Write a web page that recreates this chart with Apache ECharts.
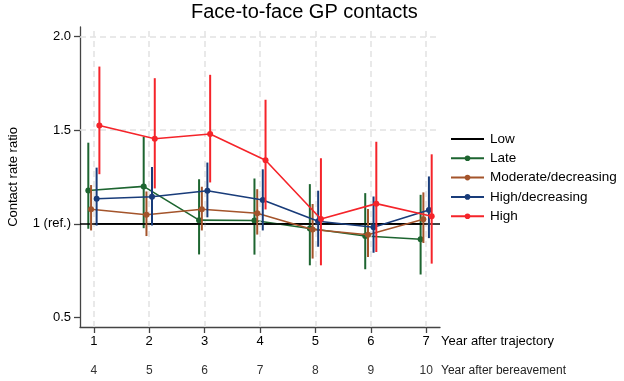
<!DOCTYPE html>
<html>
<head>
<meta charset="utf-8">
<script src="https://cdn.jsdelivr.net/npm/echarts@6/dist/echarts.min.js"></script>
<style>
html,body{margin:0;padding:0;background:#fff;}
#chart{width:624px;height:381px;}
</style>
</head>
<body>
<div id="chart"></div>
<script>
// ---- data ----
var trajectoryYears = [1, 2, 3, 4, 5, 6, 7];
var bereavementYears = [4, 5, 6, 7, 8, 9, 10];
var yTickValues = [0.5, 1, 1.5, 2];
var yTickLabels = ['0.5', '1 (ref.)', '1.5', '2.0'];
var yGridValues = [1.5, 2];

var lowEst = [1, 1, 1, 1, 1, 1, 1];

var lateEst = [1.178, 1.200, 1.020, 1.018, 0.975, 0.935, 0.918];
var lateLo  = [0.974, 0.977, 0.837, 0.836, 0.779, 0.758, 0.730];
var lateHi  = [1.433, 1.465, 1.238, 1.242, 1.212, 1.164, 1.155];

var modEst = [1.078, 1.049, 1.078, 1.057, 0.970, 0.942, 1.025];
var modLo  = [0.965, 0.935, 0.965, 0.943, 0.815, 0.823, 0.898];
var modHi  = [1.207, 1.173, 1.198, 1.185, 1.106, 1.079, 1.168];

var hdEst = [1.134, 1.145, 1.177, 1.127, 1.014, 0.982, 1.074];
var hdLo  = [0.991, 0.991, 1.035, 0.965, 0.878, 0.846, 0.924];
var hdHi  = [1.300, 1.304, 1.327, 1.291, 1.177, 1.146, 1.253];

var highEst = [1.525, 1.454, 1.479, 1.339, 1.026, 1.108, 1.041];
var highLo  = [1.265, 1.189, 1.221, 1.077, 0.779, 0.850, 0.788];
var highHi  = [1.839, 1.777, 1.795, 1.662, 1.350, 1.438, 1.371];

// ---- build ----
var FONT = 'Liberation Sans, Arial, sans-serif';
var groups = [
  {name: 'Late', est: lateEst, lo: lateLo, hi: lateHi, color: '#1d6530', off: -0.1},
  {name: 'Moderate/decreasing', est: modEst, lo: modLo, hi: modHi, color: '#a4542b', off: -0.05},
  {name: 'High/decreasing', est: hdEst, lo: hdLo, hi: hdHi, color: '#193c7a', off: 0.05},
  {name: 'High', est: highEst, lo: highLo, hi: highHi, color: '#f5242a', off: 0.1}
];

var series = [];
var gridLines = [];
trajectoryYears.forEach(function (v) { gridLines.push({xAxis: v}); });
yGridValues.forEach(function (v) { gridLines.push({yAxis: v}); });

series.push({
  name: 'grid', type: 'line', data: [], silent: true, z: 1,
  markLine: {
    silent: true, symbol: ['none', 'none'], label: {show: false},
    lineStyle: {color: '#e2e2e2', type: [6, 4], width: 1.5},
    emphasis: {disabled: true},
    data: gridLines
  }
});

series.push({
  name: 'Low', type: 'line', symbol: 'none', z: 2,
  data: trajectoryYears.map(function (x, i) { return [x, lowEst[i]]; }),
  lineStyle: {color: '#000', width: 1.6},
  itemStyle: {color: '#000'},
  markLine: {
    silent: true, symbol: ['none', 'none'], label: {show: false},
    lineStyle: {color: '#000', type: 'solid', width: 1.6},
    emphasis: {disabled: true},
    data: [{yAxis: lowEst[0]}]
  }
});

groups.forEach(function (g, gi) {
  var z = 3 + gi * 2;
  series.push({
    name: g.name + ' CI', type: 'custom', z: z, silent: true,
    data: trajectoryYears.map(function (x, i) { return [x + g.off, g.lo[i], g.hi[i]]; }),
    encode: {x: 0, y: [1, 2]},
    renderItem: function (params, api) {
      var p1 = api.coord([api.value(0), api.value(1)]);
      var p2 = api.coord([api.value(0), api.value(2)]);
      return {
        type: 'line',
        shape: {x1: p1[0], y1: p1[1], x2: p2[0], y2: p2[1]},
        style: {stroke: g.color, lineWidth: 2}
      };
    }
  });
  series.push({
    name: g.name, type: 'line', z: z + 1,
    symbol: 'circle', symbolSize: 6, showSymbol: true,
    data: trajectoryYears.map(function (x, i) { return [x + g.off, g.est[i]]; }),
    lineStyle: {color: g.color, width: 1.6},
    itemStyle: {color: g.color},
    emphasis: {disabled: true}
  });
});

var chart = echarts.init(document.getElementById('chart'), null, {renderer: 'canvas'});
chart.setOption({
  animation: false,
  backgroundColor: '#fff',
  textStyle: {fontFamily: FONT},
  title: {
    text: 'Face-to-face GP contacts',
    left: 191, top: 2, padding: 0,
    textStyle: {fontFamily: FONT, fontSize: 20, fontWeight: 'normal', color: '#000'}
  },
  legend: {
    data: [{name: 'Low', itemStyle: {opacity: 0}}, 'Late', 'Moderate/decreasing', 'High/decreasing', 'High'],
    orient: 'vertical', left: 450, top: 132, padding: 0,
    itemWidth: 33, itemHeight: 7, itemGap: 5.3,
    textStyle: {fontFamily: FONT, fontSize: 13.5, color: '#000', lineHeight: 14, padding: [0, 0, 0, 1]},
    selectedMode: false
  },
  grid: {left: 80, top: 27, right: 184, bottom: 54, containLabel: false, outerBoundsMode: 'none'},
  xAxis: [{
    type: 'value', min: 0.75, max: 7.25,
    axisLine: {show: true, lineStyle: {color: '#444', width: 1.3}},
    axisTick: {show: true, customValues: trajectoryYears, length: 6, lineStyle: {color: '#444', width: 1.3}},
    axisLabel: {customValues: trajectoryYears, margin: 8, fontFamily: FONT, fontSize: 13, color: '#000',
      formatter: function (v) { return String(v); }},
    splitLine: {show: false},
    name: 'Year after trajectory', nameLocation: 'end', nameGap: 1,
    nameTextStyle: {fontFamily: FONT, fontSize: 13, color: '#000', verticalAlign: 'top', align: 'left', padding: [8, 0, 0, 0]}
  }, {
    type: 'value', min: 0.75, max: 7.25, position: 'bottom', offset: 28,
    axisLine: {show: false},
    axisTick: {show: false, customValues: trajectoryYears},
    axisLabel: {customValues: trajectoryYears, margin: 10, fontFamily: FONT, fontSize: 12, color: '#333',
      formatter: function (v) { var i = trajectoryYears.indexOf(v); return i >= 0 ? String(bereavementYears[i]) : ''; }},
    splitLine: {show: false},
    name: 'Year after bereavement', nameLocation: 'end', nameGap: 1,
    nameTextStyle: {fontFamily: FONT, fontSize: 12, color: '#222', verticalAlign: 'top', align: 'left', padding: [10, 0, 0, 0]}
  }],
  yAxis: {
    type: 'value', min: 0.45, max: 2.05,
    axisLine: {show: true, lineStyle: {color: '#444', width: 1.3}},
    axisTick: {show: true, customValues: yTickValues, length: 6, lineStyle: {color: '#444', width: 1.3}},
    axisLabel: {customValues: yTickValues, margin: 9, fontFamily: FONT, fontSize: 13, color: '#000',
      formatter: function (v) { var i = yTickValues.indexOf(v); return i >= 0 ? yTickLabels[i] : ''; }},
    splitLine: {show: false},
    name: 'Contact rate ratio', nameLocation: 'middle', nameGap: 60,
    nameTextStyle: {fontFamily: FONT, fontSize: 13, color: '#000'}
  },
  series: series
});
</script>
</body>
</html>
